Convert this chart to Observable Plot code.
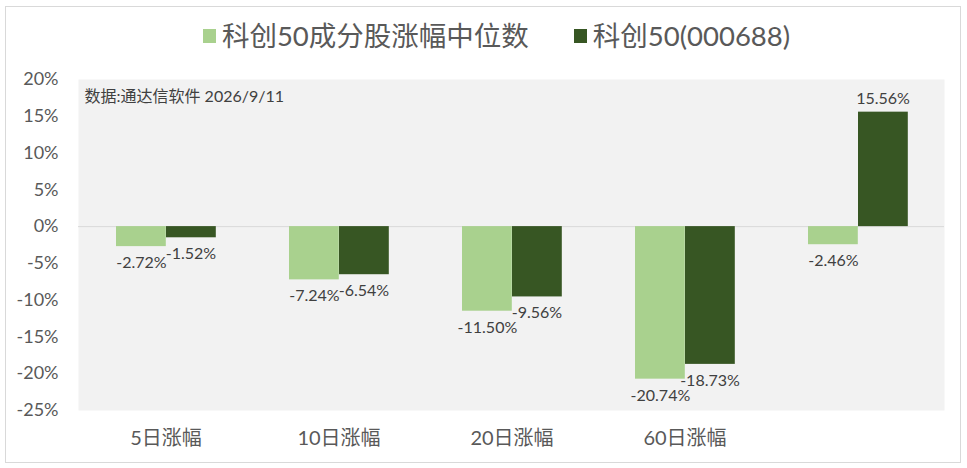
<!DOCTYPE html>
<html><head><meta charset="utf-8">
<script src="https://cdn.jsdelivr.net/npm/d3@7"></script>
<script src="https://cdn.jsdelivr.net/npm/@observablehq/plot@0.6"></script>
<style>
body{margin:0;background:#fff;}
#wrap{position:relative;width:967px;height:468px;font-family:Lato,"Noto Sans CJK SC",sans-serif;}
#border{position:absolute;left:5px;top:6px;width:956px;height:457px;border:1px solid #D9D9D9;box-sizing:border-box;}
#legend{position:absolute;top:20px;left:0;width:967px;display:flex;justify-content:center;align-items:center;padding-left:26px;box-sizing:border-box;color:#595959;font-size:27.5px;line-height:32px;}
.item{display:flex;align-items:center;}
.sw{width:13px;height:14px;margin-right:6px;}
#chart{position:absolute;left:0;top:0;}
</style></head>
<body>
<div id="wrap">
  <div id="border"></div>
  <div id="legend"></div>
  <div id="chart"></div>
</div>
<script>
const categories = ["5日涨幅", "10日涨幅", "20日涨幅", "60日涨幅", ""];
const seriesNames = ["科创50成分股涨幅中位数", "科创50(000688)"];
const medianValues = [-2.72, -7.24, -11.50, -20.74, -2.46];
const indexValues = [-1.52, -6.54, -9.56, -18.73, 15.56];
const yTicks = [-25, -20, -15, -10, -5, 0, 5, 10, 15, 20];
const colors = ["#A9D18E", "#375623"];
const note = "数据:通达信软件 2026/9/11";

const legend = document.getElementById("legend");
seriesNames.forEach((s, i) => {
  const it = document.createElement("div");
  it.className = "item";
  if (i > 0) it.style.marginLeft = "45px";
  it.innerHTML = `<span class="sw" style="background:${colors[i]}"></span><span>${s}</span>`;
  legend.appendChild(it);
});

const rows = [];
categories.forEach((c, i) => {
  rows.push({cat: c, series: seriesNames[0], value: medianValues[i]});
  rows.push({cat: c, series: seriesNames[1], value: indexValues[i]});
});
const fmt = v => v.toFixed(2) + "%";
const font = "Lato, 'Noto Sans CJK SC', sans-serif";

const barOpts = [
  {insetLeft: 37, insetRight: 86.2, dx: -24.6},
  {insetLeft: 87, insetRight: 36.2, dx: 25}
];

const marks = [
  Plot.frame({fill: "#F2F2F2", stroke: "none"}),
  Plot.ruleY([0], {stroke: "#D9D9D9", strokeWidth: 1})
];
seriesNames.forEach((s, i) => {
  const data = rows.filter(r => r.series === s);
  marks.push(Plot.barY(data, {x: "cat", y: "value", fill: colors[i], insetLeft: barOpts[i].insetLeft, insetRight: barOpts[i].insetRight}));
  marks.push(Plot.text(data.filter(d => d.value < 0), {x: "cat", y: "value", text: d => fmt(d.value), dx: barOpts[i].dx, dy: 10, lineAnchor: "top", fill: "#404040", fontSize: 16}));
  marks.push(Plot.text(data.filter(d => d.value >= 0), {x: "cat", y: "value", text: d => fmt(d.value), dx: barOpts[i].dx, dy: -8, lineAnchor: "bottom", fill: "#404040", fontSize: 16}));
});
marks.push(Plot.text([note], {frameAnchor: "top-left", dx: 6, dy: 11, fill: "#404040", fontSize: 16, lineAnchor: "top"}));
marks.push(Plot.axisY({ticks: yTicks, tickFormat: d => d + "%", tickSize: 0, tickPadding: 20, fontSize: 18, label: null}));
marks.push(Plot.axisX({tickSize: 0, tickPadding: 20, fontSize: 20, label: null}));

const chart = Plot.plot({
  width: 967,
  height: 468,
  marginTop: 79,
  marginBottom: 58,
  marginLeft: 78,
  marginRight: 23,
  style: {background: "transparent", color: "#595959", fontFamily: font},
  x: {domain: categories, padding: 0},
  y: {domain: [-25, 20]},
  marks
});
document.getElementById("chart").appendChild(chart);
</script>
</body></html>
